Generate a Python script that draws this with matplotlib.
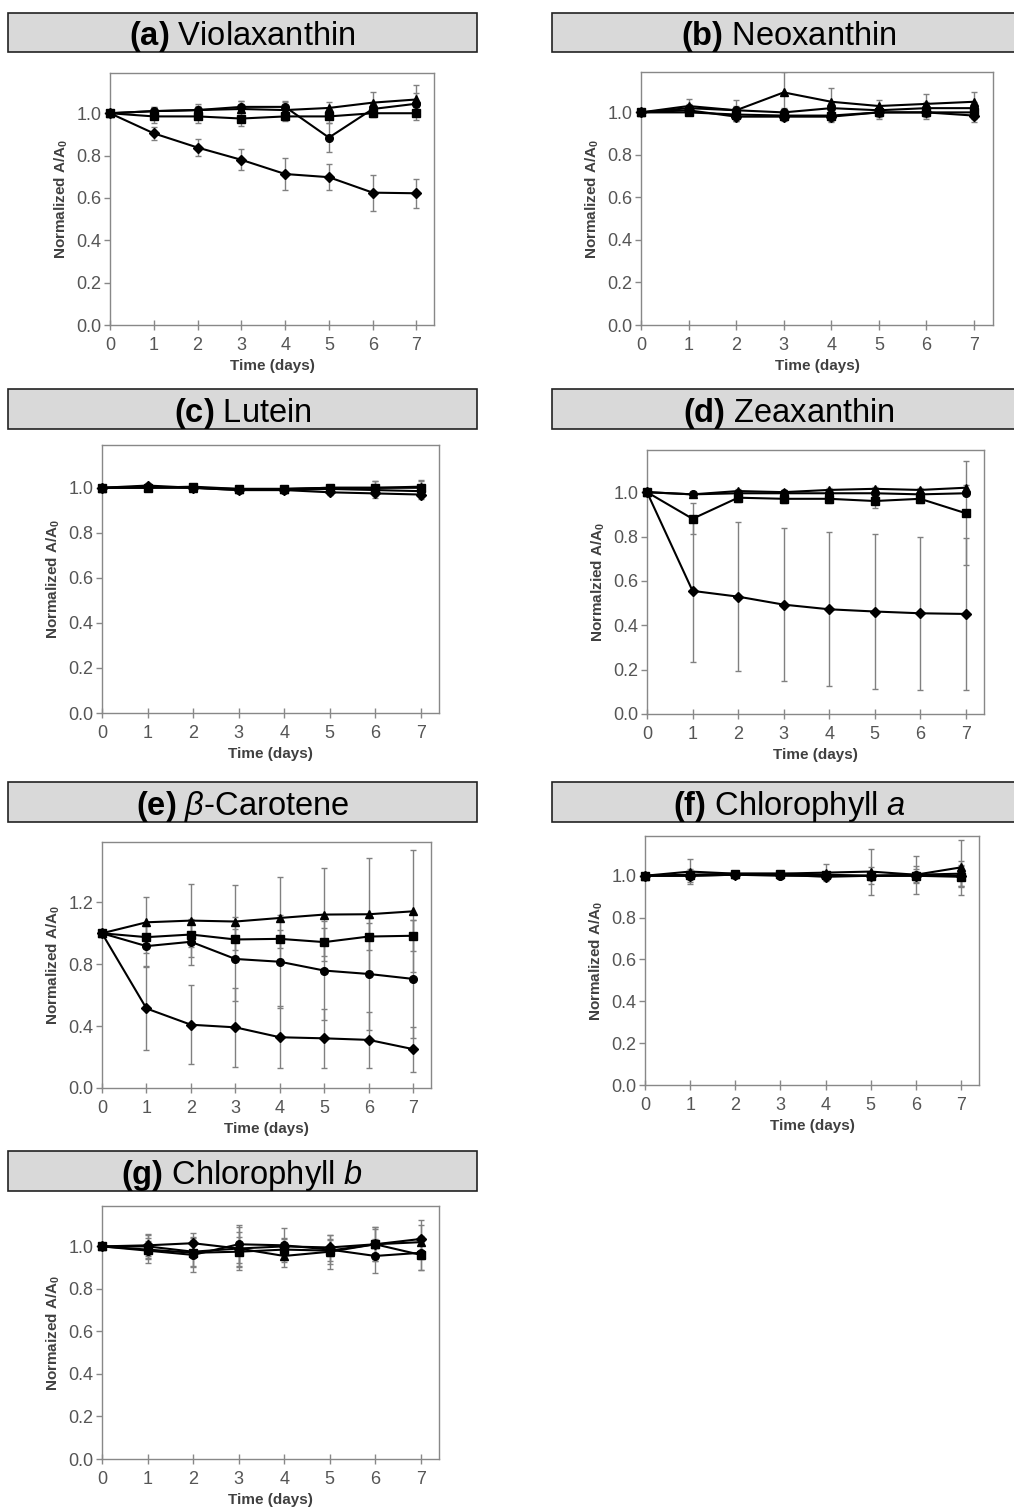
import matplotlib
matplotlib.use("Agg")
import matplotlib.pyplot as plt
from matplotlib.patches import Rectangle
from matplotlib.ticker import FormatStrFormatter

plt.rcParams['font.family'] = ['Liberation Sans', 'DejaVu Sans']
plt.rcParams['mathtext.fontset'] = 'custom'
plt.rcParams['mathtext.rm'] = 'Liberation Sans'
plt.rcParams['mathtext.it'] = 'Liberation Sans:italic'
plt.rcParams['mathtext.bf'] = 'Liberation Sans:bold'

# ---------------- data ----------------
days = [0, 1, 2, 3, 4, 5, 6, 7]
markers = ['D', 'o', 's', '^']   # diamond, circle, square, triangle

# (a) Violaxanthin
viola_mean = [[1.0, 0.905, 0.838, 0.78, 0.713, 0.698, 0.625, 0.622],
              [1.0, 1.01, 1.015, 1.03, 1.03, 0.885, 1.02, 1.045],
              [1.0, 0.985, 0.985, 0.975, 0.985, 0.985, 1.0, 1.0],
              [1.0, 1.01, 1.015, 1.02, 1.015, 1.025, 1.05, 1.065]]
viola_err = [[0, .03, .04, .05, .075, .06, .085, .068],
             [0, .02, .02, .03, .03, .07, .03, .05],
             [0, .03, .03, .035, .02, .03, .02, .03],
             [0, .02, .03, .04, .04, .03, .05, .07]]

# (b) Neoxanthin
neo_mean = [[1.0, 1.01, 0.98, 0.98, 0.98, 1.0, 1.0, 0.985],
            [1.0, 1.02, 1.01, 1.0, 1.02, 1.01, 1.02, 1.02],
            [1.0, 1.0, 0.99, 0.985, 0.985, 1.0, 1.0, 1.0],
            [1.0, 1.03, 1.01, 1.094, 1.05, 1.03, 1.04, 1.05]]
neo_err = [[0, .02, .02, .02, .02, .02, .02, .03],
           [0, .02, .02, .02, .02, .02, .03, .03],
           [0, .01, .03, .02, .03, .03, .03, .03],
           [0, .035, .05, .095, .065, .03, .045, .045]]

# (c) Lutein
lut_mean = [[1.0, 1.01, 1.0, 0.99, 0.99, 0.98, 0.975, 0.97],
            [1.0, 1.0, 1.0, 0.99, 0.99, 0.995, 0.99, 0.985],
            [1.0, 1.0, 1.005, 0.995, 0.995, 1.0, 1.0, 1.0],
            [1.0, 1.005, 1.0, 0.995, 0.995, 1.0, 1.0, 1.005]]
lut_err = [[0, .01, .01, .01, .01, .01, .02, .02],
           [0, .01, .01, .01, .01, .01, .02, .02],
           [0, .01, .01, .01, .01, .01, .03, .03],
           [0, .01, .01, .01, .01, .01, .03, .03]]

# (d) Zeaxanthin
zea_mean = [[1.0, 0.555, 0.529, 0.493, 0.472, 0.462, 0.454, 0.451],
            [1.0, 0.99, 0.995, 0.995, 0.995, 0.995, 0.99, 0.995],
            [1.0, 0.88, 0.975, 0.97, 0.97, 0.96, 0.97, 0.905],
            [1.0, 0.99, 1.005, 1.0, 1.01, 1.015, 1.01, 1.02]]
zea_err = [[0, .32, .336, .345, .347, .35, .345, .344],
           [0, .01, .01, .01, .01, .01, .01, .01],
           [0, .07, .02, .02, .02, .03, .02, .235],
           [0, .01, .01, .01, .01, .01, .01, .01]]

# (e) beta-Carotene
car_mean = [[1.0, 0.514, 0.409, 0.392, 0.328, 0.321, 0.311, 0.251],
            [1.0, 0.917, 0.945, 0.834, 0.816, 0.759, 0.737, 0.705],
            [1.0, 0.975, 0.992, 0.96, 0.964, 0.943, 0.979, 0.984],
            [1.0, 1.071, 1.082, 1.076, 1.099, 1.121, 1.123, 1.142]]
car_err = [[0, .27, .255, .255, .2, .19, .18, .145],
           [0, .13, .15, .27, .3, .32, .36, .38],
           [0, .1, .08, .07, .06, .09, .09, .1],
           [0, .165, .236, .238, .266, .298, .366, .394]]

# (f) Chlorophyll a
chla_mean = [[1.0, 1.0, 1.005, 1.005, 0.995, 1.0, 1.0, 1.0],
             [1.0, 1.0, 1.005, 1.0, 1.0, 1.0, 1.005, 1.01],
             [1.0, 1.005, 1.01, 1.01, 1.005, 1.0, 1.0, 0.995],
             [1.0, 1.02, 1.01, 1.01, 1.015, 1.02, 1.005, 1.04]]
chla_err = [[0, .02, .01, .01, .01, .02, .02, .05],
            [0, .03, .01, .01, .02, .04, .04, .06],
            [0, .01, .01, .01, .01, .02, .03, .05],
            [0, .06, .01, .01, .04, .11, .09, .13]]

# (g) Chlorophyll b
chlb_mean = [[1.0, 1.005, 1.015, 0.99, 1.0, 0.995, 1.01, 1.035],
             [1.0, 0.98, 0.96, 1.01, 1.005, 0.985, 0.955, 0.97],
             [1.0, 0.985, 0.97, 0.975, 0.985, 0.98, 1.01, 0.96],
             [1.0, 1.0, 0.975, 0.99, 0.955, 0.975, 1.01, 1.02]]
chlb_err = [[0, .05, .05, .08, .04, .04, .07, .09],
            [0, .06, .08, .09, .08, .07, .08, .08],
            [0, .04, .06, .07, .05, .05, .08, .07],
            [0, .06, .07, .1, .05, .08, .08, .08]]

titles = [r"$\mathbf{(a)}$ Violaxanthin",
          r"$\mathbf{(b)}$ Neoxanthin",
          r"$\mathbf{(c)}$ Lutein",
          r"$\mathbf{(d)}$ Zeaxanthin",
          r"$\mathbf{(e)}$ $\mathit{β}$-Carotene",
          r"$\mathbf{(f)}$ Chlorophyll $\mathit{a}$",
          r"$\mathbf{(g)}$ Chlorophyll $\mathit{b}$"]
ylabels = [r"Normalized A/A$_\mathbf{0}$",
           r"Normalized A/A$_\mathbf{0}$",
           r"Normalized A/A$_\mathbf{0}$",
           r"Normalzied A/A$_\mathbf{0}$",
           r"Normalized A/A$_\mathbf{0}$",
           r"Normalized A/A$_\mathbf{0}$",
           r"Normaized A/A$_\mathbf{0}$"]
xlabel = "Time (days)"

# ---------------- layout ----------------
W, H = 1014, 1507
fig = plt.figure(figsize=(W / 100, H / 100), dpi=100)

# axes boxes in pixels: left, right, top, bottom
axes_px = [(110, 434, 73, 325), (641, 993, 72, 325),
           (102, 439, 445, 713), (647, 984, 450, 714),
           (102, 431, 842, 1088), (645, 979, 836, 1085),
           (102, 439, 1206, 1459)]
# title boxes: x0, x1, y0, y1
title_px = [(8, 477, 13, 52), (552, 1026, 13, 52),
            (8, 477, 389, 429), (552, 1026, 389, 429),
            (8, 477, 782, 822), (552, 1026, 782, 822),
            (8, 477, 1151, 1191)]

means = [viola_mean, neo_mean, lut_mean, zea_mean, car_mean, chla_mean, chlb_mean]
errs = [viola_err, neo_err, lut_err, zea_err, car_err, chla_err, chlb_err]

tick_col = '#555555'
spine_col = '#888888'

for i in range(7):
    l, r, t, b = axes_px[i]
    ax = fig.add_axes([l / W, 1 - b / H, (r - l) / W, (b - t) / H])
    for k in range(4):
        ax.errorbar(days, means[i][k], yerr=errs[i][k], fmt='none',
                    ecolor='#808080', elinewidth=1.0, capsize=2.5,
                    capthick=1.0, zorder=2)
    for k in range(4):
        ax.plot(days, means[i][k], color='black', lw=1.5, marker=markers[k],
                ms=5.5 if markers[k] != 'D' else 5, zorder=3, clip_on=False)
    ax.set_xlim(0, 7.4)
    if i == 4:
        ax.set_ylim(0, 1.59)
        ax.set_yticks([0, 0.4, 0.8, 1.2])
    else:
        ax.set_ylim(0, 1.19)
        ax.set_yticks([0, 0.2, 0.4, 0.6, 0.8, 1.0])
    ax.set_xticks(days)
    ax.yaxis.set_major_formatter(FormatStrFormatter('%.1f'))
    for s in ax.spines.values():
        s.set_color(spine_col)
        s.set_linewidth(1.0)
    ax.tick_params(axis='x', direction='inout', length=7, width=1.0,
                   color=spine_col, labelcolor=tick_col, labelsize=13, pad=5)
    ax.tick_params(axis='y', direction='out', length=4, width=1.0,
                   color=spine_col, labelcolor=tick_col, labelsize=13, pad=2)
    ax.set_xlabel(xlabel, fontsize=11, fontweight='bold', color='#404040',
                  labelpad=4)
    ax.set_ylabel(ylabels[i], fontsize=11, fontweight='bold', color='#404040',
                  labelpad=5)

    x0, x1, y0, y1 = title_px[i]
    fig.add_artist(Rectangle((x0 / W, 1 - y1 / H), (x1 - x0) / W, (y1 - y0) / H,
                             transform=fig.transFigure, facecolor='#d9d9d9',
                             edgecolor='#222222', lw=1.2))
    fig.text((x0 + x1) / 2 / W, 1 - (y1 - 7) / H, titles[i], ha='center',
             va='baseline', fontsize=23.5, color='black')

fig.savefig('out.png', dpi=100)
